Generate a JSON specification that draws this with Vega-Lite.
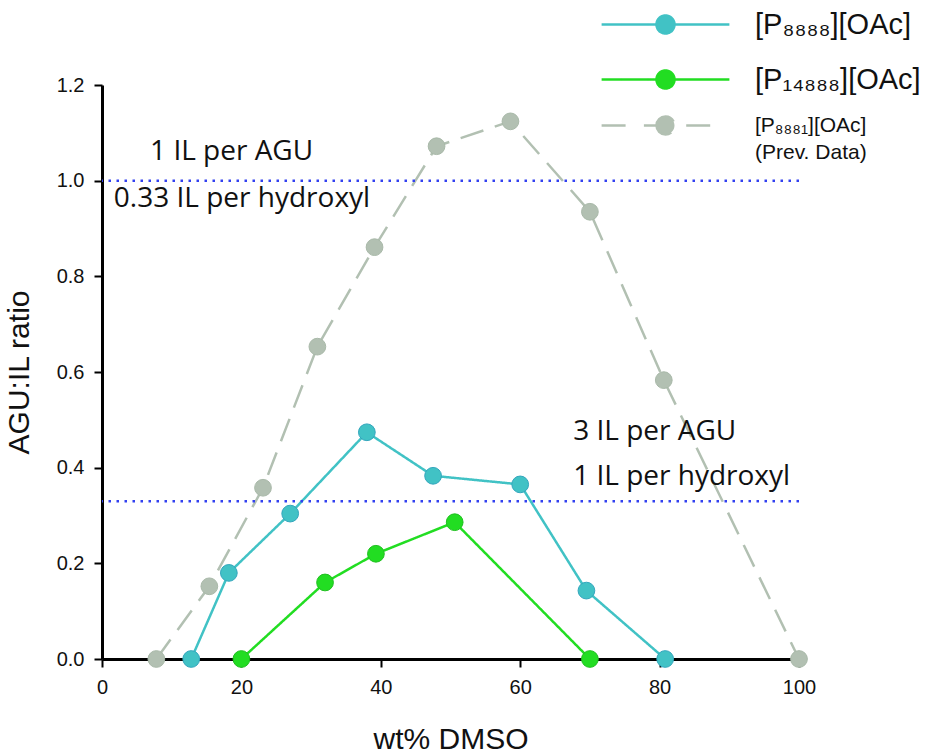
{
  "$schema": "https://vega.github.io/schema/vega-lite/v6.json",
  "width": 697,
  "height": 574,
  "autosize": "none",
  "padding": {"left": 102, "top": 85, "right": 130, "bottom": 96},
  "background": "white",
  "datasets": {
    "series": [
      {"series": "P8881", "wt": 7.8, "ratio": 0.0},
      {"series": "P8881", "wt": 15.4, "ratio": 0.152},
      {"series": "P8881", "wt": 23.1, "ratio": 0.358},
      {"series": "P8881", "wt": 30.9, "ratio": 0.653},
      {"series": "P8881", "wt": 39.1, "ratio": 0.861},
      {"series": "P8881", "wt": 48.0, "ratio": 1.072},
      {"series": "P8881", "wt": 58.6, "ratio": 1.124},
      {"series": "P8881", "wt": 70.0, "ratio": 0.935},
      {"series": "P8881", "wt": 80.6, "ratio": 0.583},
      {"series": "P8881", "wt": 100.0, "ratio": 0.0},
      {"series": "P8888", "wt": 12.8, "ratio": 0.0},
      {"series": "P8888", "wt": 18.2, "ratio": 0.18},
      {"series": "P8888", "wt": 27.0, "ratio": 0.304},
      {"series": "P8888", "wt": 38.0, "ratio": 0.474},
      {"series": "P8888", "wt": 47.5, "ratio": 0.383},
      {"series": "P8888", "wt": 60.0, "ratio": 0.365},
      {"series": "P8888", "wt": 69.5, "ratio": 0.143},
      {"series": "P8888", "wt": 80.8, "ratio": 0.0},
      {"series": "P14888", "wt": 20.0, "ratio": 0.0},
      {"series": "P14888", "wt": 32.0, "ratio": 0.16},
      {"series": "P14888", "wt": 39.3, "ratio": 0.22},
      {"series": "P14888", "wt": 50.6, "ratio": 0.286},
      {"series": "P14888", "wt": 70.0, "ratio": 0.0}
    ],
    "refs": [
      {"level": 1.0},
      {"level": 0.33}
    ],
    "notes": [
      {"note": "1 IL per AGU", "wt": 6.9, "ratio": 1.06},
      {"note": "0.33 IL per hydroxyl", "wt": 1.7, "ratio": 0.962},
      {"note": "3 IL per AGU", "wt": 67.6, "ratio": 0.475},
      {"note": "1 IL per hydroxyl", "wt": 67.6, "ratio": 0.38}
    ]
  },
  "layer": [
    {
      "data": {"name": "series"},
      "mark": {"type": "line", "strokeWidth": 2.5},
      "encoding": {
        "x": {
          "field": "wt",
          "type": "quantitative",
          "title": "wt% DMSO",
          "scale": {"domain": [0, 100], "nice": false},
          "axis": {"values": [0, 20, 40, 60, 80, 100], "labelFlush": false, "labelPadding": 10, "titlePadding": 27}
        },
        "y": {
          "field": "ratio",
          "type": "quantitative",
          "title": "AGU:IL ratio",
          "scale": {"domain": [0, 1.2], "nice": false},
          "axis": {"values": [0, 0.2, 0.4, 0.6, 0.8, 1.0, 1.2], "format": ".1f", "labelFlush": false, "labelPadding": 10, "titlePadding": 22}
        },
        "color": {
          "field": "series",
          "type": "nominal",
          "scale": {"domain": ["P8888", "P14888", "P8881"], "range": ["#41c2c5", "#22dd22", "#b2c0b2"]},
          "legend": {
            "title": null,
            "orient": "none",
            "legendX": 549,
            "legendY": -75,
            "padding": 0,
            "rowPadding": 16,
            "labelOffset": 75,
            "labelFont": "Liberation Sans",
            "labelFontSize": 29,
            "labelColor": "#111",
            "labelLimit": 300,
            "labelExpr": "datum.value == 'P8888' ? '[P₈₈₈₈][OAc]' : datum.value == 'P14888' ? '[P₁₄₈₈₈][OAc]' : ['[P₈₈₈₁][OAc]', '(Prev. Data)']",
            "encode": {
              "symbols": {
                "update": {
                  "shape": {"signal": "datum.value == 'P8881' ? 'M-7.1,0H-3.6M-2.4,0H-1M2.3,0H5.7M-1,0A1,1 0 1,1 1,0A1,1 0 1,1 -1,0Z' : datum.value == 'P8888' ? 'M-7.1,0H-1M1,0H7.1M-1,0A1,1 0 1,1 1,0A1,1 0 1,1 -1,0ZM0,2.1' : 'M-7.1,0H-1M1,0H7.1M-1,0A1,1 0 1,1 1,0A1,1 0 1,1 -1,0Z'"},
                  "size": {"value": 324},
                  "fill": {"scale": "color", "field": "value"},
                  "stroke": {"scale": "color", "field": "value"},
                  "strokeWidth": {"value": 2.5},
                  "opacity": {"value": 1},
                  "fillOpacity": {"value": 1},
                  "strokeDash": {"value": []}
                }
              },
              "labels": {
                "update": {
                  "fontSize": {"signal": "datum.value == 'P8881' ? 21 : 29"},
                  "lineHeight": {"value": 27}
                }
              }
            }
          }
        },
        "strokeDash": {
          "field": "series",
          "type": "nominal",
          "scale": {"domain": ["P8888", "P14888", "P8881"], "range": [[1, 0], [1, 0], [24, 12]]},
          "legend": null
        },
        "order": {"field": "wt", "type": "quantitative"}
      }
    },
    {
      "data": {"name": "series"},
      "mark": {"type": "point", "filled": true, "size": 280, "opacity": 1, "strokeWidth": 1},
      "encoding": {
        "x": {"field": "wt", "type": "quantitative"},
        "y": {"field": "ratio", "type": "quantitative"},
        "color": {"field": "series", "type": "nominal"},
        "stroke": {
          "field": "series",
          "type": "nominal",
          "scale": {"domain": ["P8888", "P14888", "P8881"], "range": ["#33a6bd", "#20c020", "#a9b9a9"]},
          "legend": null
        }
      }
    },
    {
      "data": {"name": "refs"},
      "mark": {"type": "rule", "color": "#3240f0", "strokeWidth": 2.5, "strokeDash": [2.5, 5.5]},
      "encoding": {
        "y": {"field": "level", "type": "quantitative"}
      }
    },
    {
      "data": {"name": "notes"},
      "mark": {"type": "text", "font": "Open Sans", "fontSize": 28, "align": "left", "baseline": "middle", "color": "#111"},
      "encoding": {
        "x": {"field": "wt", "type": "quantitative"},
        "y": {"field": "ratio", "type": "quantitative"},
        "text": {"field": "note"}
      }
    }
  ],
  "config": {
    "view": {"stroke": null},
    "axis": {
      "grid": false,
      "domainColor": "black",
      "domainWidth": 3,
      "tickColor": "black",
      "tickWidth": 2,
      "tickSize": 8,
      "labelFont": "Liberation Sans",
      "labelFontSize": 20,
      "labelColor": "#111",
      "titleFont": "Liberation Sans",
      "titleFontSize": 30,
      "titleFontWeight": "normal",
      "titleColor": "#111"
    }
  }
}
